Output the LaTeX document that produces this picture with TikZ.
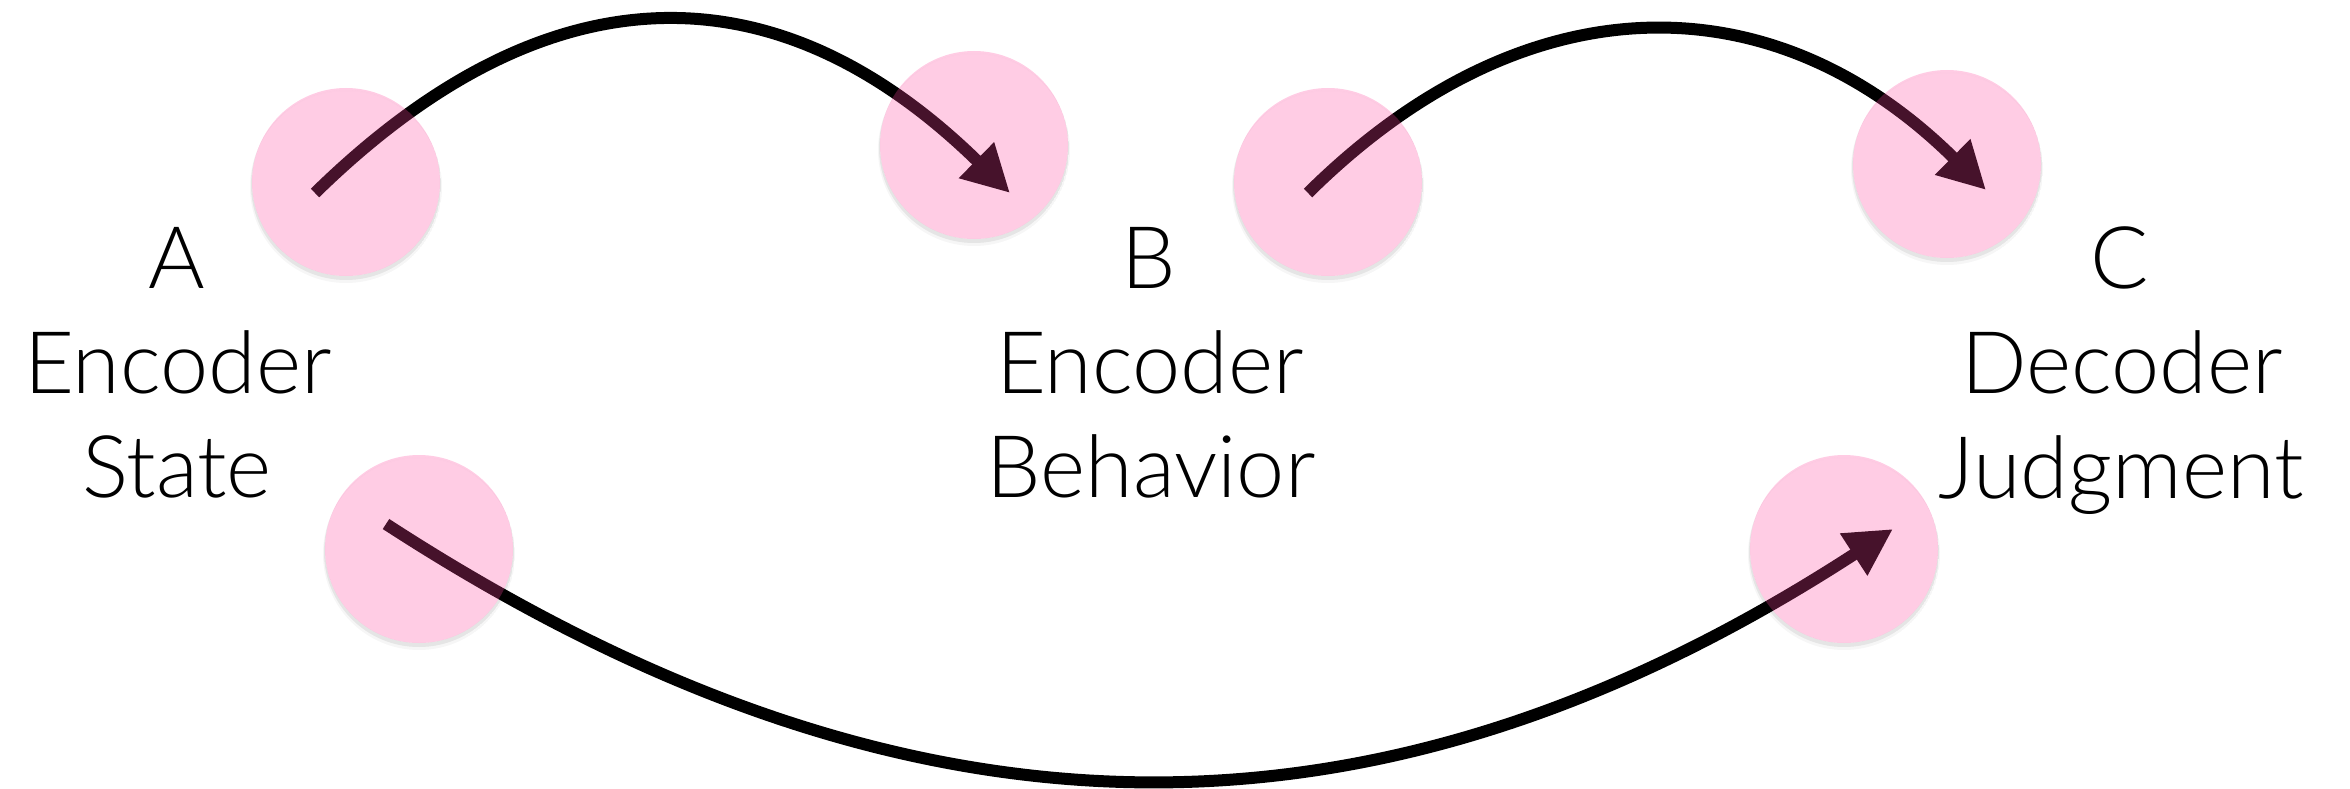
\documentclass[tikz,border=0pt]{standalone}
\usepackage{fontspec}
\IfFontExistsTF{Lato Light}
  {\setmainfont{Lato Light}}
  {\setmainfont[FakeStretch=0.96]{TeX Gyre Heros}}
\usetikzlibrary{arrows.meta}
\definecolor{dotpink}{RGB}{255,69,157}
\pgfdeclarelayer{back}
\pgfsetlayers{back,main}
\newcommand\dotshade[1]{%
  \begin{scope}
    \clip ([yshift=-3pt]#1.center) circle [radius=95pt];
    \fill[black, opacity=0.07, even odd rule]
      ([yshift=-3pt]#1.center) circle [radius=95pt]
      (#1.center) circle [radius=94pt];
  \end{scope}
  \begin{scope}
    \clip ([yshift=-5pt]#1.center) circle [radius=96pt];
    \fill[black, opacity=0.035, even odd rule]
      ([yshift=-5pt]#1.center) circle [radius=96pt]
      (#1.center) circle [radius=94pt];
  \end{scope}}
\begin{document}
\begin{tikzpicture}[x=1pt, y=-1pt,
  dot/.style={circle, fill=dotpink, fill opacity=0.275, draw=none,
              minimum size=188pt, inner sep=0pt},
  link/.style={line width=12pt, black, -{Triangle[length=47pt, width=47pt]}},
  lbl/.style={anchor=base, inner sep=0pt,
              font=\fontsize{86.4pt}{104pt}\selectfont}]
  \useasboundingbox (0,0) rectangle (2350,789);

  % pink dots
  \node[dot] (c1) at (346,182) {};
  \node[dot] (c2) at (974,145) {};
  \node[dot] (c3) at (1328,182) {};
  \node[dot] (c4) at (1947,164) {};
  \node[dot] (c5) at (419,549) {};
  \node[dot] (c6) at (1844,549) {};

  % arrow end points inside the dots
  \coordinate (s1) at (315,193);
  \coordinate (e1) at (1010,193);
  \coordinate (s2) at (1308,193);
  \coordinate (e2) at (1986,190);
  \coordinate (s3) at (386,524);
  \coordinate (e3) at (1893,529);

  % labels
  \node[lbl] (la1) at (177,288) {A};
  \node[lbl] (la2) at (178,393) {Encoder};
  \node[lbl] (la3) at (177,497) {State};
  \node[lbl] (lb1) at (1149,288) {B};
  \node[lbl] (lb2) at (1150,393) {Encoder};
  \node[lbl] (lb3) at (1151,497) {Behavior};
  \node[lbl] (lc1) at (2120,288) {C};
  \node[lbl] (lc2) at (2122,393) {Decoder};
  \node[lbl] (lc3) at (2121,498) {Judgment};

  % arrows and soft shadows beneath the dots
  \begin{pgfonlayer}{back}
    \draw[link] (s1) .. controls (548,-35) and (777,-35) .. (e1);
    \draw[link] (s2) .. controls (1523,-20) and (1771,-23) .. (e2);
    \draw[link] (s3) .. controls (905,861) and (1374,866) .. (e3);
    \dotshade{c1}\dotshade{c2}\dotshade{c3}
    \dotshade{c4}\dotshade{c5}\dotshade{c6}
  \end{pgfonlayer}
\end{tikzpicture}
\end{document}
